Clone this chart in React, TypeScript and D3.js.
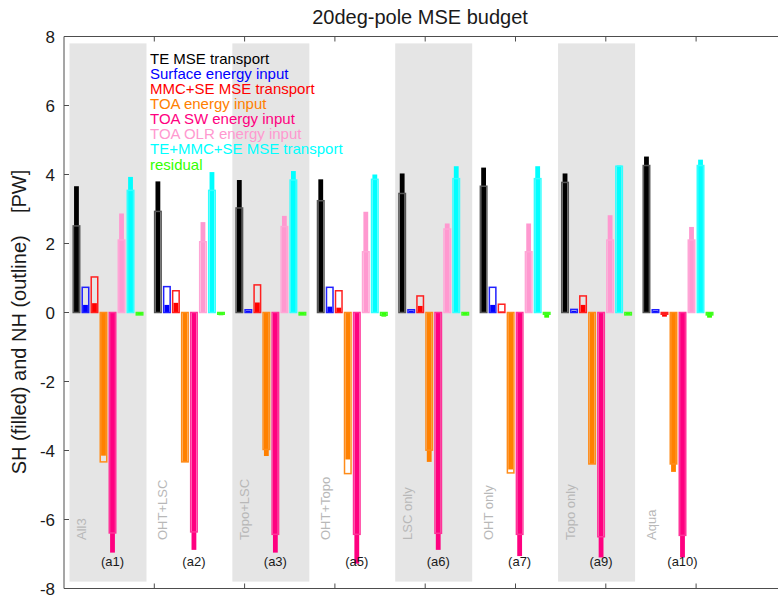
import React from "react";
import * as d3 from "d3";

const groupCodes = ["(a1)", "(a2)", "(a3)", "(a5)", "(a6)", "(a7)", "(a9)", "(a10)"];
const experiments = ["All3", "OHT+LSC", "Topo+LSC", "OHT+Topo", "LSC only", "OHT only", "Topo only", "Aqua"];
const seriesNames = [
  "TE MSE transport",
  "Surface energy input",
  "MMC+SE MSE transport",
  "TOA energy input",
  "TOA SW energy input",
  "TOA OLR energy input",
  "TE+MMC+SE MSE transport",
  "residual",
];
const seriesColors = ["#000000", "#0000ff", "#ff0000", "#ff8000", "#ff0080", "#ff99d0", "#00ffff", "#33ff00"];
const outlineColors = ["#555555", "#2020ff", "#ff2020", "#ff8c1a", "#ff3399", "#ffa6d6", "#33ffff", "#40ff20"];

// SH (filled) values per series, one per group
const teSH = [3.66, 3.8, 3.84, 3.86, 4.03, 4.2, 4.03, 4.52];
const sfcSH = [0.22, 0.22, 0.05, 0.17, 0.05, 0.22, 0.05, 0.05];
const mmcSH = [0.27, 0.28, 0.29, 0.14, 0.19, 0.03, 0.22, -0.12];
const toaSH = [-4.15, -4.33, -4.16, -4.26, -4.33, -4.55, -4.39, -4.62];
const swSH = [-6.96, -6.88, -6.96, -7.28, -6.88, -7.06, -7.1, -7.1];
const olrSH = [2.87, 2.62, 2.8, 2.92, 2.58, 2.58, 2.82, 2.48];
const totSH = [3.93, 4.07, 4.1, 4.0, 4.24, 4.24, 4.26, 4.43];
const resSH = [-0.07, -0.08, -0.07, -0.12, -0.08, -0.15, -0.07, -0.15];

// NH (outline) values per series
const teNH = [2.51, 2.93, 3.03, 3.24, 3.45, 3.66, 3.77, 4.26];
const sfcNH = [0.73, 0.75, 0.08, 0.73, 0.08, 0.73, 0.09, 0.08];
const mmcNH = [1.03, 0.63, 0.8, 0.63, 0.48, 0.24, 0.48, -0.05];
const toaNH = [-4.33, -4.33, -3.97, -4.67, -3.99, -4.65, -4.39, -4.39];
const swNH = [-6.39, -6.36, -6.43, -6.43, -6.4, -6.43, -6.5, -6.46];
const olrNH = [2.1, 2.05, 2.49, 1.76, 2.42, 1.76, 2.1, 2.1];
const totNH = [3.54, 3.54, 3.84, 3.86, 3.88, 3.88, 4.24, 4.26];
const resNH = [-0.07, -0.05, -0.07, -0.08, -0.07, -0.05, -0.07, -0.07];

const shSeries = [teSH, sfcSH, mmcSH, toaSH, swSH, olrSH, totSH, resSH];
const nhSeries = [teNH, sfcNH, mmcNH, toaNH, swNH, olrNH, totNH, resNH];

const yTicks = [-8, -6, -4, -2, 0, 2, 4, 6, 8];
const xTicks = [1, 2, 3, 4, 5, 6, 7, 8];

const FONT = "'Liberation Sans', Arial, Helvetica, sans-serif";

export default function App() {
  const W = 778;
  const H = 595;
  const left = 64;
  const top = 36.5;
  const bottom = 588.5;
  const right = 786.4;

  const y = d3.scaleLinear().domain([-8, 8]).range([bottom, top]);
  const xAxis = d3.scaleLinear().domain([0, 8]).range([left, right]);
  const xGroup = d3.scaleLinear().domain([0, groupCodes.length - 1]).range([108, 678]);
  const xBar = d3.scaleBand<string>().domain(seriesNames).range([-36, 36]).paddingInner(0.11).paddingOuter(0.05);
  const bw = xBar.bandwidth();
  const fillW = bw * 0.6;
  const bandHalf = 38.5;

  return (
    <svg width={W} height={H} style={{ position: "absolute", left: 0, top: 0, background: "#fff" }} fontFamily={FONT}>
      <rect x={0} y={0} width={W} height={H} fill="#ffffff" />
      {/* alternate gray bands */}
      {groupCodes.map((g, i) =>
        i % 2 === 0 ? (
          <rect
            key={"band" + g}
            x={xGroup(i) - bandHalf}
            y={y(7.8)}
            width={bandHalf * 2}
            height={y(-7.8) - y(7.8)}
            fill="#e5e5e5"
          />
        ) : null
      )}
      {/* experiment labels (vertical, gray) */}
      {experiments.map((e, i) => (
        <text
          key={"exp" + e}
          transform={`translate(${xGroup(i) - 22},540) rotate(-90)`}
          fontSize={13}
          fill="#b8b8b8"
        >
          {e}
        </text>
      ))}
      {/* bars */}
      {groupCodes.map((g, i) => (
        <g key={"grp" + g}>
          {seriesNames.map((s, k) => {
            const x0 = xGroup(i) + (xBar(s) as number);
            const cx = x0 + bw / 2;
            const vs = shSeries[k][i];
            const vn = nhSeries[k][i];
            return (
              <g key={s}>
                <rect
                  x={cx - fillW / 2}
                  y={Math.min(y(vs), y(0))}
                  width={fillW}
                  height={Math.abs(y(vs) - y(0))}
                  fill={seriesColors[k]}
                />
                <rect
                  x={x0 + 0.75}
                  y={Math.min(y(vn), y(0))}
                  width={bw - 1.5}
                  height={Math.abs(y(vn) - y(0))}
                  fill="none"
                  stroke={outlineColors[k]}
                  strokeWidth={1.5}
                />
              </g>
            );
          })}
        </g>
      ))}
      {/* group codes */}
      {groupCodes.map((g, i) => (
        <text
          key={"code" + g}
          x={xGroup(i) + (xBar(seriesNames[4]) as number) + bw / 2}
          y={566}
          fontSize={13}
          textAnchor="middle"
          fill="#1a1a1a"
        >
          {g}
        </text>
      ))}
      {/* axes box */}
      <g stroke="#4d4d4d" strokeWidth={1} fill="none">
        <line x1={left} y1={top} x2={left} y2={bottom} />
        <line x1={left} y1={top} x2={right} y2={top} />
        <line x1={left} y1={bottom} x2={right} y2={bottom} />
        <line x1={right} y1={top} x2={right} y2={bottom} />
        {yTicks.map((t) => (
          <g key={"yt" + t}>
            <line x1={left} x2={left + 5} y1={y(t)} y2={y(t)} />
            <line x1={right} x2={right - 5} y1={y(t)} y2={y(t)} />
          </g>
        ))}
        {xTicks.map((t) => (
          <g key={"xt" + t}>
            <line x1={xAxis(t)} x2={xAxis(t)} y1={bottom} y2={bottom - 5} />
            <line x1={xAxis(t)} x2={xAxis(t)} y1={top} y2={top + 5} />
          </g>
        ))}
      </g>
      {yTicks.map((t) => (
        <text key={"yl" + t} x={55} y={y(t) + 6} fontSize={17} textAnchor="end" fill="#1a1a1a">
          {t}
        </text>
      ))}
      {/* y title */}
      <text
        transform={`translate(26,${322}) rotate(-90)`}
        textAnchor="middle"
        fontSize={20}
        fill="#1a1a1a"
        style={{ whiteSpace: "pre" }}
      >
        {"SH (filled) and NH (outline)    [PW]"}
      </text>
      {/* title */}
      <text x={420} y={24} textAnchor="middle" fontSize={20} fill="#1a1a1a">
        20deg-pole MSE budget
      </text>
      {/* legend */}
      {seriesNames.map((s, k) => (
        <text key={"leg" + s} x={150} y={63.5 + k * 15.15} fontSize={15} fill={seriesColors[k]}>
          {s}
        </text>
      ))}
    </svg>
  );
}
